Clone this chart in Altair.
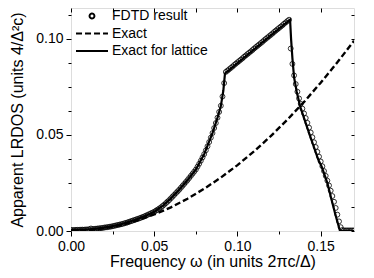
import altair as alt
import numpy as np
import pandas as pd

# ---- data ----
# FDTD result (open circles), sampled every 0.001 in frequency
fdtd_start, fdtd_step = 0.0, 0.001
fdtd_v = [
    0.0005, 0.0005, 0.0005, 0.0006, 0.0006, 0.0006, 0.0007, 0.0007, 0.0007, 0.0008, 0.0008,
    0.0009, 0.0013, 0.0010, 0.0011, 0.0012, 0.0013, 0.0014, 0.0015, 0.0016, 0.0018,
    0.0019, 0.0020, 0.0022, 0.0023, 0.0025, 0.0027, 0.0029, 0.0031, 0.0033, 0.0035,
    0.0037, 0.0040, 0.0042, 0.0045, 0.0048, 0.0051, 0.0054, 0.0057, 0.0060, 0.0063,
    0.0066, 0.0069, 0.0073, 0.0076, 0.0080, 0.0084, 0.0088, 0.0092, 0.0096, 0.0100,
    0.0106, 0.0111, 0.0117, 0.0123, 0.0130, 0.0137, 0.0145, 0.0153, 0.0161, 0.0170,
    0.0179, 0.0188, 0.0197, 0.0206, 0.0215, 0.0225, 0.0235, 0.0245, 0.0255, 0.0265,
    0.0276, 0.0287, 0.0298, 0.0309, 0.0320, 0.0335, 0.0350, 0.0366, 0.0383, 0.0400,
    0.0420, 0.0441, 0.0463, 0.0486, 0.0510, 0.0536, 0.0562, 0.0590, 0.0620, 0.0652,
    0.0700, 0.0770, 0.0828, 0.0835, 0.0842, 0.0849, 0.0856, 0.0864, 0.0871, 0.0878,
    0.0885, 0.0892, 0.0899, 0.0907, 0.0914, 0.0921, 0.0928, 0.0935, 0.0942, 0.0950,
    0.0957, 0.0964, 0.0971, 0.0978, 0.0985, 0.0993, 0.1000, 0.1007, 0.1014, 0.1021,
    0.1028, 0.1036, 0.1043, 0.1050, 0.1057, 0.1064, 0.1071, 0.1079, 0.1086, 0.1093,
    0.1100, 0.0950, 0.0870, 0.0810, 0.0765, 0.0725, 0.0690, 0.0662, 0.0637, 0.0612,
    0.0588, 0.0563, 0.0538, 0.0513, 0.0488, 0.0462, 0.0437, 0.0412, 0.0387, 0.0362,
    0.0337, 0.0312, 0.0287, 0.0262, 0.0237, 0.0210, 0.0182, 0.0152, 0.0120, 0.0085,
    0.0050, 0.0020, 0.0005, 0.0003, 0.0003, 0.0003, 0.0003, 0.0003, 0.0003, 0.0003,
]
fdtd_w = [round(fdtd_start + i * fdtd_step, 3) for i in range(len(fdtd_v))]

# Exact (free space), dashed
exact_w = [0.00, 0.01, 0.02, 0.03, 0.04, 0.05, 0.06, 0.07, 0.08, 0.09,
           0.10, 0.11, 0.12, 0.13, 0.14, 0.15, 0.16, 0.17]
exact_v = [0.0, 0.0003, 0.0014, 0.0031, 0.0055, 0.0086, 0.0123, 0.0168, 0.0220, 0.0278,
           0.0343, 0.0415, 0.0494, 0.0580, 0.0672, 0.0772, 0.0878, 0.0990]

# Exact for lattice, solid
lat_w = [0.000, 0.010, 0.015, 0.020, 0.025, 0.030, 0.035, 0.040, 0.045, 0.050,
         0.055, 0.060, 0.065, 0.070, 0.075, 0.080, 0.085, 0.088, 0.090, 0.0915,
         0.0925, 0.1000, 0.1100, 0.1200, 0.1316, 0.1322, 0.1330, 0.1340, 0.1356, 0.1376,
         0.1430, 0.1486, 0.1506, 0.1540, 0.1566, 0.1590, 0.1616, 0.1700]
lat_v = [0.0005, 0.0008, 0.0012, 0.0018, 0.0025, 0.0035, 0.0048, 0.0063, 0.0080, 0.0100,
         0.0130, 0.0170, 0.0215, 0.0265, 0.0320, 0.0400, 0.0510, 0.0590, 0.0650, 0.0730,
         0.0820, 0.0874, 0.0946, 0.1018, 0.1100, 0.1000, 0.0900, 0.0800, 0.0725, 0.0650,
         0.0510, 0.0370, 0.0335, 0.0250, 0.0160, 0.0080, 0.0000, 0.0000]

series_names = ["FDTD result", "Exact", "Exact for lattice"]

x_major = [0.0, 0.05, 0.10, 0.15]
x_minor = [0.025, 0.075, 0.125]
y_major = [0.0, 0.05, 0.10]
y_minor = [0.0125, 0.025, 0.0375, 0.0625, 0.075, 0.0875, 0.1125]
x_all = sorted(x_major + x_minor)
y_all = sorted(y_major + y_minor)

fdtd_df = pd.DataFrame({"w": fdtd_w, "v": fdtd_v, "series": series_names[0]})
exact_df = pd.DataFrame({"w": exact_w, "v": exact_v, "series": series_names[1]})
lat_df = pd.DataFrame({"w": lat_w, "v": lat_v, "series": series_names[2]})

FONT = "Liberation Sans"
xscale = alt.Scale(domain=[0, 0.17], nice=False, zero=False)
yscale = alt.Scale(domain=[0, 0.1161], nice=False, zero=False)

# legend symbols: circle for FDTD, 32px long strokes for the two lines
dash_scale = alt.Scale(domain=series_names, range=[[1, 0], [6, 3], [1, 0]])
shape_scale = alt.Scale(domain=series_names,
                        range=["circle", "M-4.06,0L4.06,0", "M-3.2,0L3.2,0"])
size_scale = alt.Scale(domain=series_names, range=[24, 100])  # point scale: 24, 62, 100

legend = alt.Legend(
    title=None, orient="none", legendX=14, legendY=1,
    labelFont=FONT, labelFontSize=14, labelColor="black",
    labelOffset=13, rowPadding=3.5, padding=0,
    symbolFillColor="transparent", symbolStrokeColor="black", symbolStrokeWidth=1.9,
)

exact_layer = alt.Chart(exact_df).mark_line(color="black", strokeWidth=2.4, clip=True).encode(
    x=alt.X("w:Q", scale=xscale, axis=alt.Axis(
        values=x_major, format=".2f", tickSize=5, tickColor="black", domain=False,
        labelFont=FONT, labelFontSize=14, labelColor="black", labelPadding=3,
        labelFlush=False, grid=False, title="Frequency ω (in units 2πc/Δ)", titleFont=FONT,
        titleFontSize=16, titleFontWeight="normal", titleColor="black", titlePadding=0)),
    y=alt.Y("v:Q", scale=yscale, axis=alt.Axis(
        values=y_major, format=".2f", tickSize=5, tickColor="black", domain=False,
        labelFont=FONT, labelFontSize=14, labelColor="black", labelPadding=3,
        labelFlush=False, grid=False, title="Apparent  LRDOS (units 4/Δ²c)", titleFont=FONT,
        titleFontSize=16, titleFontWeight="normal", titleColor="black", titlePadding=10)),
    strokeDash=alt.StrokeDash("series:N", scale=dash_scale, legend=legend),
)

lat_layer = alt.Chart(lat_df).mark_line(color="black", strokeWidth=2.2, clip=True).encode(
    x=alt.X("w:Q", scale=xscale, axis=alt.Axis(
        values=x_minor, labels=False, tickSize=3, tickColor="black", domain=False,
        grid=False, title=None)),
    y=alt.Y("v:Q", scale=yscale, axis=alt.Axis(
        values=y_minor, labels=False, tickSize=3, tickColor="black", domain=False,
        grid=False, title=None)),
    strokeDash=alt.StrokeDash("series:N", scale=dash_scale, legend=legend),
)

fdtd_layer = alt.Chart(fdtd_df).mark_point(
    filled=False, color="black", opacity=1, strokeWidth=0.8, clip=True
).encode(
    x=alt.X("w:Q", scale=xscale, axis=alt.Axis(
        orient="top", values=x_all, labels=False, tickSize=4, offset=-4,
        tickColor="black", domain=False, grid=False, title=None)),
    y=alt.Y("v:Q", scale=yscale, axis=alt.Axis(
        orient="right", values=y_all, labels=False, tickSize=3, offset=-3,
        tickColor="black", domain=False, grid=False, title=None)),
    shape=alt.Shape("series:N", scale=shape_scale, legend=legend),
    size=alt.Size("series:N", scale=size_scale, legend=legend),
)

chart = alt.layer(fdtd_layer, exact_layer, lat_layer).resolve_axis(
    x="independent", y="independent"
).properties(
    width=283, height=223,
    autosize=alt.AutoSizeParams(type="none"),
    padding={"left": 63, "top": 0, "right": 12, "bottom": 39},
    background="white",
).configure_view(stroke="black", strokeWidth=1.2).configure(font=FONT)

chart.save("out.html", embed_options={"renderer": "svg", "actions": False})
